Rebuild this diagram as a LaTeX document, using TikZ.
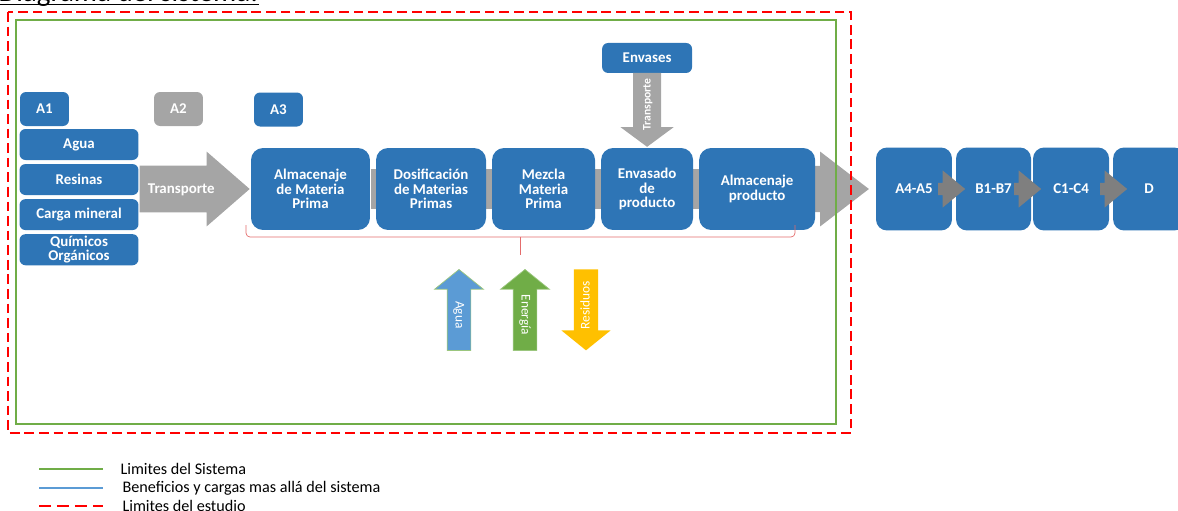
\documentclass[tikz,border=0pt]{standalone}
\usepackage{fontspec}
\setmainfont{Carlito}
\usepackage{tikz}
\usetikzlibrary{positioning,shapes.arrows,backgrounds}

\definecolor{azul}{HTML}{2E75B6}
\definecolor{gris}{HTML}{A5A5A5}
\definecolor{grisosc}{HTML}{7F7F7F}
\definecolor{verde}{HTML}{70AD47}
\definecolor{celeste}{HTML}{5B9BD5}
\definecolor{amarillo}{HTML}{FFC000}
\definecolor{rojo}{HTML}{FF0000}
\definecolor{llave}{HTML}{E46C6C}

\begin{document}
\begin{tikzpicture}[x=0.02cm,y=-0.02cm,node distance=0.06cm,semithick]
\tikzstyle{tag}=[rectangle,rounded corners=0.12cm,fill=azul,text=white,align=center,inner sep=1pt,font=\bfseries\fontsize{8.5}{8.3}\selectfont,minimum width=0.98cm,minimum height=0.68cm]
\tikzstyle{feed}=[tag,minimum width=2.38cm,minimum height=0.62cm]
\tikzstyle{stage}=[tag,rounded corners=0.24cm,minimum height=1.64cm]
\tikzstyle{module}=[tag,rounded corners=0.22cm,minimum width=1.5cm,minimum height=1.66cm]
\tikzstyle{block}=[single arrow,single arrow head indent=0pt,fill=gris,text=white,inner sep=0pt,anchor=tip]
\tikzstyle{bigblock}=[block,text height=0.49cm,text depth=0.31cm,minimum width=1.5cm,font=\bfseries\fontsize{8.5}{8.3}\selectfont]
\tikzstyle{vblock}=[block,text height=0.3cm,text depth=0.16cm,minimum width=0.92cm,minimum height=1.62cm,single arrow tip angle=102,font=\fontsize{7.6}{7.6}\selectfont]
\tikzstyle{minilink}=[block,fill=grisosc,text height=0.22cm,text depth=0cm,minimum width=0.46cm,minimum height=0.54cm,single arrow tip angle=79]
\tikzstyle{brace}=[llave,thin,rounded corners=0.08cm]
\tikzstyle{legend}=[anchor=west,inner sep=0pt,font=\fontsize{9.2}{9.2}\selectfont]
\useasboundingbox (0,0) rectangle (1178,511);

% titulo
\node[anchor=base west,inner sep=0pt,font=\fontsize{16.5}{16.5}\selectfont] (Titulo) at (-2,1.5) {Diagrama del sistema:};
\draw[line width=0.9pt] ([yshift=-0.06cm]Titulo.base west) -- ([yshift=-0.06cm]Titulo.base east);

% etapas A1 - A3
\node[tag] (A1) at (44.5,109) {A1};
\node[tag,fill=gris] (A2) at (178.5,109) {A2};
\node[tag] (A3) at (278.5,109.5) {A3};
\node[feed] (Agua) at (79,144.5) {Agua};
\node[feed] (Resinas) [below=of Agua] {Resinas};
\node[feed] (Carga) [below=of Resinas] {Carga mineral};
\node[feed] (Quimicos) [below=of Carga] {Químicos\\Orgánicos};

% proceso
\node[stage,minimum width=2.38cm] (AlmMP) at (310.5,189) {Almacenaje\\de Materia\\Prima};
\node[stage,minimum width=2.2cm] (Dosif) [right=0.1cm of AlmMP] {Dosificación\\de Materias\\Primas};
\node[stage,minimum width=2.06cm] (Mezcla) [right=0.1cm of Dosif] {Mezcla\\Materia\\Prima};
\node[stage,minimum width=1.84cm] (Envasado) [right=0.1cm of Mezcla] {Envasado\\de\\producto};
\node[stage,minimum width=2.32cm] (AlmProd) [right=0.1cm of Envasado] {Almacenaje\\producto};
\node[tag,minimum width=1.8cm,minimum height=0.6cm] (Envases) [above=1.48cm of Envasado] {Envases};

% mas alla del sistema
\node[module,minimum width=1.52cm] (A45) at (914,189) {A4-A5};
\node[module] (B17) [right=of A45] {B1-B7};
\node[module,minimum width=1.52cm] (C14) [right=0.02cm of B17] {C1-C4};
\node[module,minimum width=1.44cm] (D) [right=of C14] {D};

\begin{scope}[on background layer]
\draw[gris,line width=0.8cm] (AlmMP) -- (AlmProd);
\node[bigblock,minimum height=1.4cm,single arrow tip angle=75] (Salida) at ([xshift=-0.12cm]A45.west) {};
\end{scope}
\node[bigblock,minimum height=2.2cm,single arrow tip angle=82] (Transp) at (AlmMP.west) {Transporte};
\node[vblock,rotate=90,shape border rotate=180,text height=0.34cm,text depth=0.2cm,minimum width=0.98cm,minimum height=1.48cm,single arrow tip angle=107,font=\bfseries\fontsize{6.6}{6.6}\selectfont] (TranspEnv) at (Envasado.north) {Transporte};

% entradas y salidas
\node[vblock,fill=celeste,draw=verde!70,line width=0.4pt,rotate=-90,shape border rotate=180] (AguaIn) at (459,269) {Agua};
\node[vblock,fill=verde,draw=verde!70,line width=0.4pt,rotate=-90,shape border rotate=180] (Energia) at (525,269) {Energía};
\node[vblock,fill=amarillo,rotate=90,shape border rotate=180] (Residuos) at (586,351) {Residuos};
\draw[brace] (246,225) |- (795,237) -- (795,225);
\draw[brace] (520,237) -- (520,255);

\node[minilink] (L1) at (966,189) {};
\node[minilink] (L2) at (1042,189) {};
\node[minilink] (L3) at (1128,189) {};

% limites
\draw[verde,line width=1.1pt] (16,20) rectangle (836,424);
\draw[rojo,line width=0.85pt,dash pattern=on 5.5pt off 2.8pt] (8,12) rectangle (851,433);

% leyenda
\draw[verde,line width=0.6pt] (39,469) -- (103,469);
\draw[celeste,line width=0.6pt] (39,488) -- (103,488);
\draw[rojo,line width=0.8pt,dash pattern=on 6.8pt off 3.4pt] (39,506) -- (103,506);
\node[legend] (LeySis) at (120,469) {Limites del Sistema};
\node[legend] (LeyBen) at (122,488) {Beneficios y cargas mas allá del sistema};
\node[legend] (LeyEst) at (122,506) {Limites del estudio};
\end{tikzpicture}
\end{document}
